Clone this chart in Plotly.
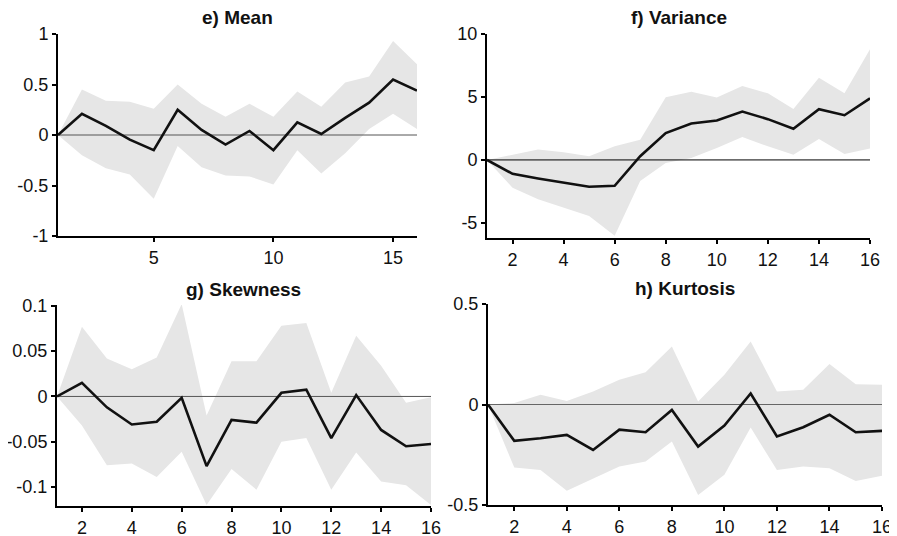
import plotly.graph_objects as go

horizon = list(range(1, 17))

mean_irf = [0, 0.21, 0.09, -0.046, -0.15, 0.25, 0.05, -0.095, 0.04, -0.15, 0.125, 0.01, 0.17, 0.32, 0.55, 0.44]
mean_hi = [0, 0.45, 0.34, 0.33, 0.26, 0.50, 0.31, 0.18, 0.31, 0.18, 0.43, 0.28, 0.52, 0.58, 0.93, 0.70]
mean_lo = [0, -0.20, -0.33, -0.39, -0.63, -0.11, -0.32, -0.40, -0.41, -0.49, -0.15, -0.38, -0.18, 0.06, 0.21, 0.06]

var_irf = [0, -1.1, -1.47, -1.8, -2.13, -2.05, 0.29, 2.13, 2.9, 3.13, 3.84, 3.24, 2.47, 4.03, 3.55, 4.89]
var_hi = [0, 0.42, 0.82, 0.6, 0.29, 1.08, 1.6, 4.97, 5.42, 4.95, 5.87, 5.29, 4.05, 6.53, 5.29, 8.79]
var_lo = [0, -2.2, -3.13, -3.79, -4.45, -6.03, -1.68, -0.24, 0.16, 0.95, 1.82, 1.08, 0.42, 1.66, 0.47, 0.9]

skew_irf = [0, 0.015, -0.012, -0.031, -0.028, -0.0015, -0.077, -0.026, -0.029, 0.004, 0.0074, -0.046, 0.0015, -0.037, -0.055, -0.0525]
skew_hi = [0, 0.077, 0.042, 0.030, 0.043, 0.102, -0.021, 0.039, 0.039, 0.078, 0.081, 0.004, 0.067, 0.034, -0.007, -0.001]
skew_lo = [0, -0.032, -0.076, -0.074, -0.089, -0.061, -0.12, -0.080, -0.103, -0.050, -0.046, -0.103, -0.062, -0.094, -0.098, -0.12]

kurt_irf = [0, -0.181, -0.168, -0.151, -0.226, -0.125, -0.138, -0.027, -0.209, -0.105, 0.055, -0.159, -0.113, -0.051, -0.138, -0.131]
kurt_hi = [0, 0.007, 0.048, 0.018, 0.065, 0.123, 0.161, 0.289, 0.015, 0.148, 0.314, 0.065, 0.073, 0.201, 0.101, 0.098]
kurt_lo = [0, -0.314, -0.326, -0.429, -0.367, -0.309, -0.284, -0.184, -0.45, -0.35, -0.115, -0.326, -0.309, -0.317, -0.38, -0.354]

titles = ["e) Mean", "f) Variance", "g) Skewness", "h) Kurtosis"]

# the page body has an 8px default margin; the figure is sized/positioned to compensate
OFF = 8
W, H = 897 - OFF, 536 - OFF
# pixel boxes in window coordinates: (x0, x1, ytop, ybottom)
boxes = [(58, 417, 34, 236), (487, 870, 34, 238), (57, 431, 305, 506), (488, 882, 304, 505)]
yranges = [[-1, 1], [-6.2, 10], [-0.121, 0.101], [-0.5, 0.5]]
ytickvals = [[-1, -0.5, 0, 0.5, 1], [-5, 0, 5, 10], [-0.1, -0.05, 0, 0.05, 0.1], [-0.5, 0, 0.5]]
yticktext = [["-1", "-0.5", "0", "0.5", "1"], ["-5", "0", "5", "10"],
             ["-0.1", "-0.05", "0", "0.05", "0.1"], ["-0.5", "0", "0.5"]]
xtickvals = [[5, 10, 15], list(range(2, 17, 2)), list(range(2, 17, 2)), list(range(2, 17, 2))]
zero_colors = ["#555555", "#000000", "#555555", "#666666"]

series = [(mean_irf, mean_hi, mean_lo), (var_irf, var_hi, var_lo),
          (skew_irf, skew_hi, skew_lo), (kurt_irf, kurt_hi, kurt_lo)]

fig = go.Figure()
font_family = "Liberation Sans, Arial, sans-serif"

for i, (irf, hi, lo) in enumerate(series):
    xa = "x" if i == 0 else f"x{i+1}"
    ya = "y" if i == 0 else f"y{i+1}"
    fig.add_trace(go.Scatter(
        x=horizon + horizon[::-1], y=hi + lo[::-1], fill="toself",
        fillcolor="#e6e6e6", line=dict(width=0, color="#e6e6e6"),
        mode="lines", hoverinfo="skip", showlegend=False, xaxis=xa, yaxis=ya))
    fig.add_trace(go.Scatter(
        x=[horizon[0], horizon[-1]], y=[0, 0], mode="lines",
        line=dict(color=zero_colors[i], width=1), showlegend=False, xaxis=xa, yaxis=ya))
    fig.add_trace(go.Scatter(
        x=horizon, y=irf, mode="lines", line=dict(color="#111111", width=2.6),
        showlegend=False, xaxis=xa, yaxis=ya))

    x0, x1, yt, yb = [v - OFF for v in boxes[i]]
    xkey = "xaxis" if i == 0 else f"xaxis{i+1}"
    ykey = "yaxis" if i == 0 else f"yaxis{i+1}"
    common = dict(showline=True, linecolor="black", linewidth=2, ticks="outside",
                  ticklen=4, tickwidth=2, tickcolor="black", showgrid=False,
                  zeroline=False, mirror=False, automargin=False,
                  tickfont=dict(family=font_family, size=18, color="#111111"))
    fig.update_layout(**{
        xkey: dict(domain=[x0 / W, x1 / W], range=[1, 16], tickvals=xtickvals[i],
                   anchor=ya, **common),
        ykey: dict(domain=[1 - yb / H, 1 - yt / H], range=yranges[i],
                   tickvals=ytickvals[i], ticktext=yticktext[i], anchor=xa, **common),
    })
    fig.add_annotation(
        text=f"<b>{titles[i]}</b>", x=(x0 + x1) / 2 / W, y=1 - (yt - 16) / H,
        xref="paper", yref="paper", showarrow=False, xanchor="center", yanchor="middle",
        font=dict(family=font_family, size=19, color="#111111"))

fig.update_layout(width=W, height=H, margin=dict(l=0, r=0, t=0, b=0),
                  paper_bgcolor="white", plot_bgcolor="white", showlegend=False)

fig.write_html("out.html")
